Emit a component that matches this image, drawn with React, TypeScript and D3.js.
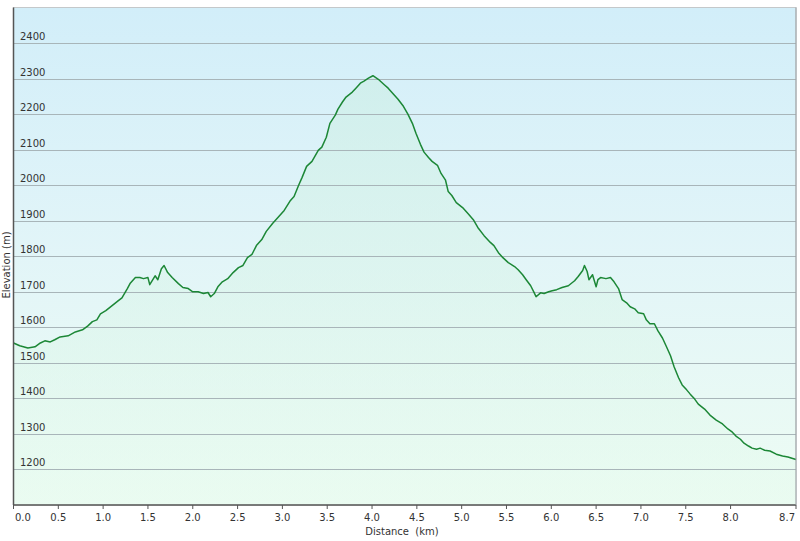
import React from "react";
import * as d3 from "d3";

const distanceKm = [
  0.0, 0.07, 0.16, 0.24, 0.3, 0.35, 0.41, 0.46, 0.52, 0.61, 0.69, 0.77, 0.83, 0.88, 0.93, 0.97,
  1.03, 1.1, 1.17, 1.21, 1.27, 1.3, 1.36, 1.41, 1.45, 1.5, 1.52, 1.58, 1.61, 1.65, 1.68, 1.72,
  1.77, 1.84, 1.89, 1.95, 2.0, 2.06, 2.12, 2.17, 2.2, 2.24, 2.28, 2.33, 2.39, 2.45, 2.51, 2.56,
  2.61, 2.66, 2.71, 2.77, 2.82, 2.89, 2.95, 3.02, 3.09, 3.13, 3.18, 3.22, 3.27, 3.33, 3.4, 3.44,
  3.49, 3.53, 3.59, 3.62, 3.67, 3.71, 3.78, 3.82, 3.87, 3.91, 3.96, 4.01, 4.07, 4.14, 4.18, 4.24,
  4.29, 4.35, 4.4, 4.45, 4.49, 4.54, 4.58, 4.63, 4.67, 4.73, 4.77, 4.82, 4.85, 4.89, 4.94, 5.01,
  5.07, 5.13, 5.18, 5.25, 5.32, 5.36, 5.41, 5.46, 5.52, 5.59, 5.63, 5.68, 5.72, 5.77, 5.81, 5.83,
  5.88, 5.92, 5.97, 6.01, 6.06, 6.12, 6.19, 6.26, 6.3, 6.35, 6.37, 6.4, 6.42, 6.46, 6.5, 6.52,
  6.55, 6.61, 6.66, 6.7, 6.75, 6.79, 6.84, 6.88, 6.93, 6.97, 7.03, 7.06, 7.1, 7.15, 7.19, 7.24,
  7.28, 7.33, 7.37, 7.42, 7.46, 7.51, 7.55, 7.6, 7.64, 7.71, 7.77, 7.84, 7.91, 7.97, 8.02, 8.06,
  8.11, 8.15, 8.2, 8.24, 8.29, 8.33, 8.38, 8.44, 8.51, 8.58, 8.64, 8.73,
];

const elevationM = [
  1556, 1548, 1542, 1545, 1556, 1562, 1559, 1565, 1573, 1576, 1587, 1593, 1604, 1616, 1621, 1638,
  1647, 1661, 1675, 1683, 1709, 1723, 1740, 1740, 1737, 1740, 1720, 1745, 1734, 1765, 1774, 1754,
  1740, 1723, 1712, 1709, 1700, 1700, 1695, 1698, 1686, 1695, 1714, 1728, 1737, 1754, 1768, 1774,
  1796, 1805, 1830, 1847, 1870, 1892, 1909, 1929, 1957, 1968, 1999, 2022, 2053, 2067, 2098, 2107,
  2135, 2174, 2197, 2214, 2234, 2248, 2262, 2273, 2287, 2293, 2301, 2308, 2298, 2282, 2273, 2256,
  2242, 2222, 2200, 2174, 2146, 2115, 2093, 2078, 2067, 2056, 2033, 2014, 1982, 1971, 1951, 1937,
  1920, 1903, 1881, 1858, 1839, 1830, 1810, 1796, 1782, 1771, 1762, 1748, 1734, 1717, 1697, 1686,
  1697, 1695, 1700, 1703, 1706, 1712, 1717, 1731, 1743, 1760, 1774, 1757, 1734, 1748, 1714, 1734,
  1740, 1737, 1740, 1728, 1709, 1678, 1669, 1658, 1652, 1641, 1638, 1621, 1610, 1610, 1590, 1570,
  1548, 1520, 1489, 1458, 1438, 1424, 1412, 1398, 1384, 1370, 1353, 1339, 1328, 1314, 1305, 1294,
  1285, 1274, 1266, 1260, 1257, 1260, 1254, 1252, 1243, 1238, 1235, 1228,
];

const yTicks = [1200, 1300, 1400, 1500, 1600, 1700, 1800, 1900, 2000, 2100, 2200, 2300, 2400];
const xTicks = [0, 0.5, 1, 1.5, 2, 2.5, 3, 3.5, 4, 4.5, 5, 5.5, 6, 6.5, 7, 7.5, 8];
const xEnd = 8.73;
const xEndLabel = "8.7";
const xTitle = "Distance  (km)";
const yTitle = "Elevation (m)";

const W = 800;
const H = 541;
const M = { left: 13.5, right: 796, top: 7.5, bottom: 505 };
const FONT = "'DejaVu Sans', Verdana, sans-serif";

export default function App() {
  const x = d3.scaleLinear().domain([0, xEnd]).range([M.left, M.right]);
  const y = d3.scaleLinear().domain([1100, 2500]).range([M.bottom, M.top]);
  const pts = distanceKm.map((d, i) => [d, elevationM[i]] as [number, number]);
  const line = d3
    .line<[number, number]>()
    .x((d) => x(d[0]))
    .y((d) => y(d[1]));
  const area = d3
    .area<[number, number]>()
    .x((d) => x(d[0]))
    .y0(M.bottom)
    .y1((d) => y(d[1]));

  return (
    <svg
      width={W}
      height={H}
      style={{ position: "absolute", left: 0, top: 0, background: "#fff" }}
      fontFamily={FONT}
    >
      <defs>
        <linearGradient id="bg" x1="0" y1="0" x2="0" y2="1">
          <stop offset="0" stopColor="#d2eef9" />
          <stop offset="0.5" stopColor="#e2f5f8" />
          <stop offset="1" stopColor="#edfcf3" />
        </linearGradient>
        <linearGradient id="fillG" x1="0" y1={M.top} x2="0" y2={M.bottom} gradientUnits="userSpaceOnUse">
          <stop offset="0" stopColor="#c4ecdc" stopOpacity={0.45} />
          <stop offset="1" stopColor="#e6fbee" stopOpacity={0.45} />
        </linearGradient>
      </defs>
      <rect
        x={M.left}
        y={M.top}
        width={M.right - M.left}
        height={M.bottom - M.top}
        fill="url(#bg)"
        stroke="#c4c8ca"
        strokeWidth={1}
      />
      <path d={area(pts) || ""} fill="url(#fillG)" />
      {yTicks.map((t) => (
        <g key={t}>
          <line
            x1={M.left}
            x2={M.right}
            y1={Math.round(y(t)) + 0.5}
            y2={Math.round(y(t)) + 0.5}
            stroke="#a8b5b9"
            strokeWidth={1}
          />
          <text x={20} y={y(t) - 3} fontSize={10} fill="#333">
            {t}
          </text>
        </g>
      ))}
      <path d={line(pts) || ""} fill="none" stroke="#1c8736" strokeWidth={1.5} strokeLinejoin="round" />
      <line x1={M.left} x2={M.left} y1={M.top} y2={M.bottom} stroke="#555" strokeWidth={1.5} />
      <line x1={M.left} x2={M.right} y1={M.bottom} y2={M.bottom} stroke="#555" strokeWidth={1.5} />
      <line x1={M.right} x2={M.right} y1={M.top} y2={M.bottom} stroke="#9aa0a3" strokeWidth={1} />
      {xTicks.map((t) => (
        <g key={t}>
          <line x1={x(t)} x2={x(t)} y1={M.bottom} y2={M.bottom + 4} stroke="#555" strokeWidth={1} />
          <text
            x={t === 0 ? x(t) + 1.5 : x(t)}
            y={521}
            fontSize={10}
            fill="#333"
            textAnchor={t === 0 ? "start" : "middle"}
          >
            {t.toFixed(1)}
          </text>
        </g>
      ))}
      <line x1={x(xEnd)} x2={x(xEnd)} y1={M.bottom} y2={M.bottom + 4} stroke="#555" strokeWidth={1} />
      <text x={x(xEnd) - 1} y={521} fontSize={10} fill="#333" textAnchor="end">
        {xEndLabel}
      </text>
      <text x={402} y={535} fontSize={10} fill="#333" textAnchor="middle" style={{ whiteSpace: "pre" }}>
        {xTitle}
      </text>
      <text
        transform={`translate(10, 265) rotate(-90)`}
        fontSize={10}
        fill="#333"
        textAnchor="middle"
      >
        {yTitle}
      </text>
    </svg>
  );
}
